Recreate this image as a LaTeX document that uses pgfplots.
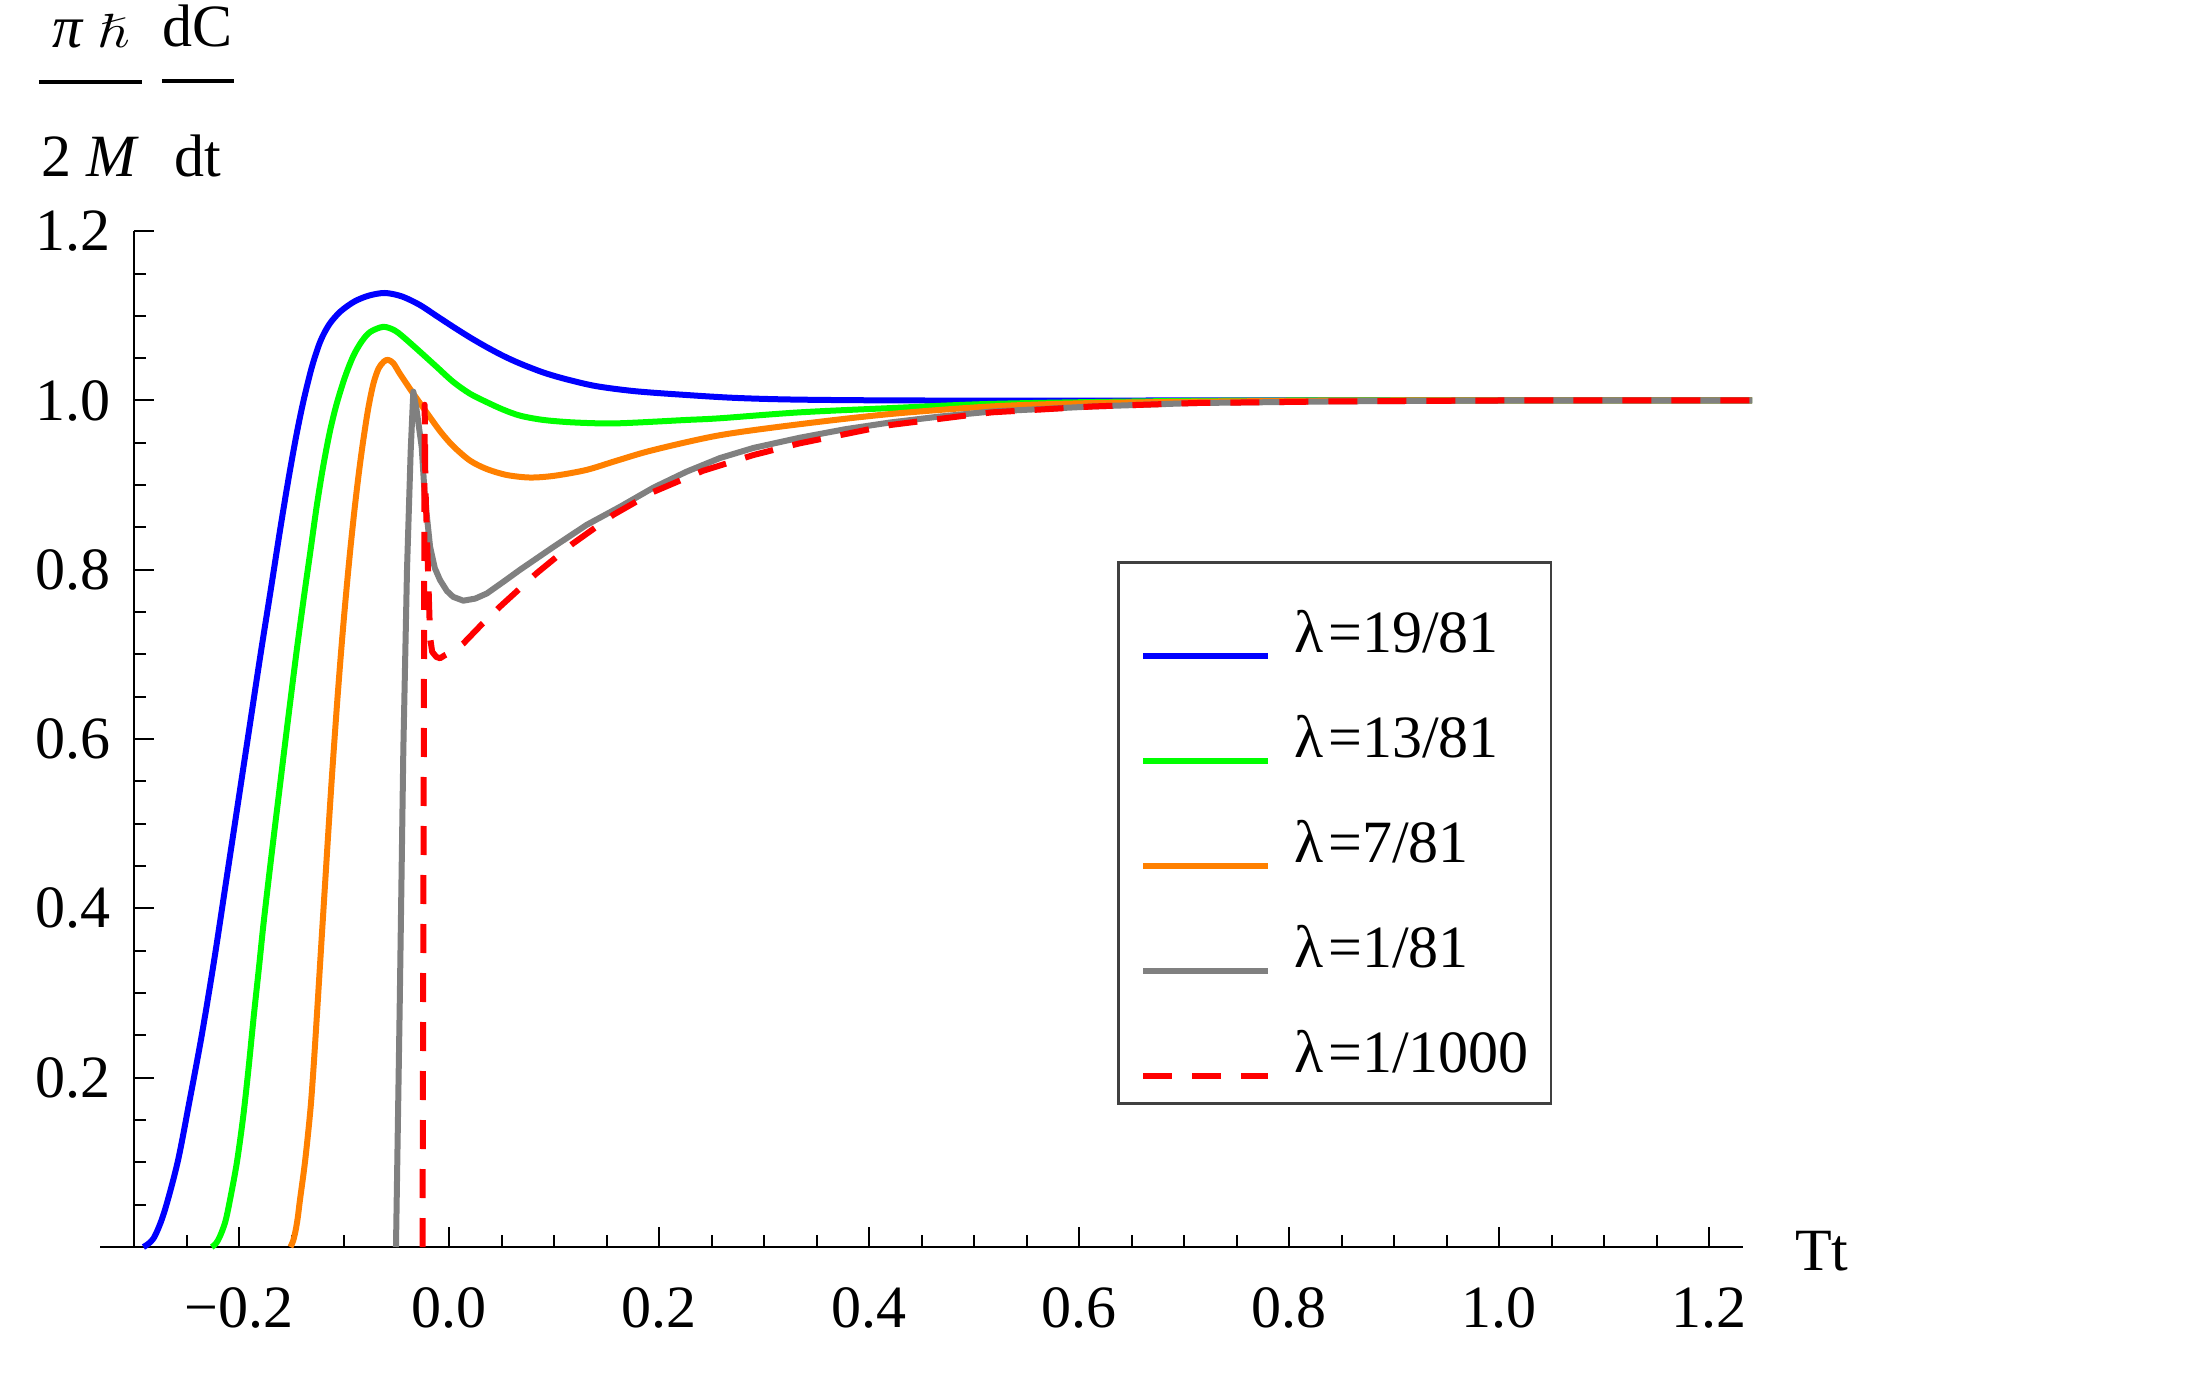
\documentclass[border=0pt]{standalone}
\usepackage{amssymb}
\usepackage{graphicx}
\usepackage{fontspec}
\setmainfont{Liberation Serif}
\usepackage{pgfplots}
\pgfplotsset{compat=1.18}
\definecolor{mBlue}{rgb}{0,0,1}
\definecolor{mGreen}{rgb}{0,1,0}
\definecolor{mOrange}{rgb}{1,0.5,0}
\definecolor{mGray}{rgb}{0.5,0.5,0.5}
\definecolor{mRed}{rgb}{1,0,0}
\pgfplotsset{
  firstleg/.style={legend image code/.code={\path[draw=none,fill=none] (0pt,-7.5pt) -- (0pt,7.5pt);\draw[##1,line cap=butt] (0pt,-6.7pt) -- (25pt,-6.7pt);}},
  otherleg/.style={legend image code/.code={\path[draw=none,fill=none] (0pt,-5pt) -- (0pt,5pt);\draw[##1,line cap=butt] (0pt,-4.05pt) -- (25pt,-4.05pt);}},
}
\newcommand\mfrac[3]{\vbox{\hbox to #3{\hss#1\hss}\kern6.4pt\hrule height0.8pt\kern10.2pt\hbox to #3{\hss\rule{0pt}{8.2pt}#2\hss}}}
\begin{document}
\fontsize{12}{14.4}\selectfont
\begin{tikzpicture}
\begin{axis}[
  scale only axis, width=321.72pt, height=203.16pt,
  xmin=-0.3, xmax=1.232, ymin=0, ymax=1.2,
  clip=false,
  axis lines=left,
  axis line style={-, line width=0.45pt, black},
  x axis line style={shorten <=-6.8pt},
  tick align=inside,
  major tick length=4pt, minor tick length=2.4pt,
  tick style={line width=0.4pt, black},
  xtick={-0.2,0,0.2,0.4,0.6,0.8,1.0,1.2},
  xticklabels={−0.2,0.0,0.2,0.4,0.6,0.8,1.0,1.2},
  minor xtick={-0.25,-0.15,-0.1,-0.05,0.05,0.1,0.15,0.25,0.3,0.35,0.45,0.5,0.55,0.65,0.7,0.75,0.85,0.9,0.95,1.05,1.1,1.15},
  ytick={0.2,0.4,0.6,0.8,1.0,1.2},
  yticklabels={0.2,0.4,0.6,0.8,1.0,1.2},
  minor ytick={0.05,0.1,0.15,0.25,0.3,0.35,0.45,0.5,0.55,0.65,0.7,0.75,0.85,0.9,0.95,1.05,1.1,1.15},
  xticklabel style={inner sep=0pt, anchor=north, yshift=-7.9pt},
  yticklabel style={inner sep=0pt, anchor=east, xshift=-4.6pt},
  every axis x label/.style={at={(axis description cs:1,0)}, anchor=west, inner sep=0pt, xshift=10.3pt, yshift=-0.8pt},
  every axis y label/.style={at={(axis description cs:-0.0597,1.0543)}, anchor=base west, inner sep=0pt},
  xlabel={Tt},
  ylabel={\hbox{\mfrac{\textit{π}\hspace{2.8pt}\scalebox{0.95}[0.8]{$\hslash$}}{2\hspace{3pt}\textit{M}}{20.6pt}\hspace{4pt}\mfrac{dC}{dt}{14.4pt}}},
  legend cell align=left,
  legend style={at={(axis description cs:0.6111,0.6753)}, anchor=north west,
    draw=black!75, line width=0.5pt, inner xsep=4.4pt, inner ysep=4.2pt,
    row sep=10.5pt, column sep=4.6pt,
    nodes={inner sep=0pt, text height=8.5pt, text depth=2pt}},
  otherleg,
  every axis plot/.append style={line width=1.2pt, line join=round},
]
\addplot[mBlue, smooth, tension=0.5, firstleg] coordinates {
(-0.291,0) (-0.2815,0.01) (-0.2715,0.04) (-0.2585,0.10) (-0.2475,0.17) (-0.2355,0.25)
(-0.2235,0.34) (-0.2125,0.43) (-0.2015,0.52) (-0.1905,0.61) (-0.1795,0.70) (-0.1693,0.78)
(-0.1605,0.85) (-0.1525,0.91) (-0.1452,0.96) (-0.1385,1.00) (-0.1305,1.04) (-0.1225,1.07)
(-0.1140,1.09) (-0.1035,1.105) (-0.090,1.117) (-0.076,1.124) (-0.061,1.127) (-0.045,1.123)
(-0.028,1.113) (-0.012,1.100) (0.004,1.087) (0.020,1.0745) (0.036,1.063) (0.052,1.0525)
(0.068,1.0435) (0.090,1.033) (0.112,1.025) (0.140,1.017) (0.177,1.011) (0.226,1.0065)
(0.274,1.003) (0.334,1.001) (0.45,1.0) (0.7,1.0) (1.0,1.0) (1.241,1.0)};
\addlegendentry[text height=13.8pt]{λ\kern1pt=19/81}
\addplot[mGreen, smooth, tension=0.5] coordinates {
(-0.226,0) (-0.222,0.004) (-0.218,0.013) (-0.213,0.030) (-0.2086,0.0555) (-0.202,0.100)
(-0.196,0.154) (-0.191,0.210) (-0.186,0.272) (-0.181,0.330) (-0.177,0.378) (-0.172,0.432)
(-0.167,0.484) (-0.1615,0.540) (-0.156,0.596) (-0.1505,0.651) (-0.145,0.705) (-0.1385,0.765)
(-0.132,0.822) (-0.126,0.875) (-0.120,0.921) (-0.1135,0.963) (-0.107,0.996) (-0.099,1.028)
(-0.091,1.053) (-0.083,1.070) (-0.075,1.081) (-0.0626,1.087) (-0.052,1.083) (-0.0435,1.075)
(-0.028,1.058) (-0.012,1.040) (0.004,1.022) (0.020,1.008) (0.036,0.998) (0.052,0.989)
(0.068,0.982) (0.090,0.977) (0.120,0.974) (0.160,0.973) (0.226,0.977) (0.258,0.979)
(0.334,0.986) (0.420,0.991) (0.517,0.996) (0.663,0.999) (0.8,1.0) (1.0,1.0) (1.241,1.0)};
\addlegendentry{λ\kern1pt=13/81}
\addplot[mOrange, smooth, tension=0.5] coordinates {
(-0.151,0) (-0.1485,0.007) (-0.146,0.020) (-0.144,0.035) (-0.142,0.055) (-0.137,0.102)
(-0.132,0.162) (-0.129,0.212) (-0.126,0.270) (-0.123,0.330) (-0.120,0.390) (-0.115,0.489)
(-0.1125,0.537) (-0.110,0.583) (-0.106,0.652) (-0.102,0.715) (-0.098,0.772) (-0.094,0.824)
(-0.090,0.871) (-0.086,0.913) (-0.082,0.950) (-0.077,0.990) (-0.072,1.020) (-0.067,1.038)
(-0.062,1.046) (-0.058,1.048) (-0.053,1.044) (-0.047,1.032) (-0.040,1.019) (-0.034,1.008)
(-0.026,0.994) (-0.018,0.980) (-0.008,0.963) (0.004,0.946) (0.020,0.929) (0.036,0.919)
(0.055,0.912) (0.077,0.909) (0.100,0.911) (0.131,0.918) (0.160,0.929) (0.1946,0.9415)
(0.258,0.959) (0.334,0.972) (0.420,0.984) (0.517,0.993) (0.614,0.997) (0.75,0.999)
(0.9,1.0) (1.241,1.0)};
\addlegendentry{λ\kern1pt=7/81}
\addplot[mGray] coordinates {
(-0.0505,0) (-0.047,0.28) (-0.0435,0.587) (-0.040,0.80) (-0.0365,0.94) (-0.034,1.0105)
(-0.031,0.99) (-0.026,0.945) (-0.023,0.886) (-0.018,0.827) (-0.0135,0.802) (-0.0086,0.788)
(-0.002,0.775) (0.004,0.768) (0.0137,0.7635) (0.025,0.766) (0.036,0.772) (0.052,0.786)
(0.0676,0.800) (0.0994,0.827) (0.131,0.853) (0.163,0.8745) (0.1946,0.897) (0.2264,0.916)
(0.258,0.932) (0.290,0.944) (0.334,0.956) (0.377,0.966) (0.420,0.974) (0.467,0.981)
(0.517,0.987) (0.614,0.993) (0.71,0.997) (0.85,0.999) (1.0,1.0) (1.241,1.0)};
\addlegendentry{λ\kern1pt=1/81}
\addplot[mRed, dash pattern=on 5.8pt off 4pt] coordinates {
(-0.0252,0) (-0.0242,0.50) (-0.0232,0.995) (-0.0225,0.90) (-0.020,0.80) (-0.018,0.72)
(-0.016,0.703) (-0.012,0.697) (-0.0086,0.6955) (-0.004,0.699) (0.004,0.704) (0.0137,0.713)
(0.030,0.734) (0.0486,0.7565) (0.0835,0.796) (0.118,0.831) (0.1565,0.865) (0.1946,0.892)
(0.242,0.917) (0.290,0.9356) (0.334,0.9494) (0.420,0.971) (0.517,0.986) (0.614,0.993)
(0.71,0.997) (0.85,0.999) (1.0,1.0) (1.241,1.0)};
\addlegendentry{λ\kern1pt=1/1000}
\end{axis}
\pgfresetboundingbox
\path[use as bounding box] (-26.8pt,-26pt) rectangle (414.2pt,249.4pt);
\end{tikzpicture}
\end{document}
